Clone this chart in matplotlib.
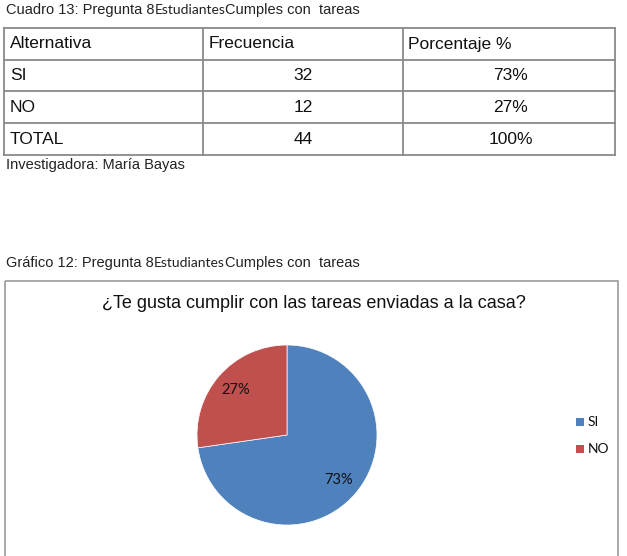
import matplotlib
matplotlib.use('Agg')
import matplotlib.pyplot as plt
from matplotlib.patches import Rectangle

DPI = 100

# table data
header = ['Alternativa', 'Frecuencia', 'Porcentaje %']
alternativas = ['SI', 'NO', 'TOTAL']
frecuencia = [32, 12, 44]
porcentaje = ['73%', '27%', '100%']

# pie data
labels = ['SI', 'NO']
values = [32, 12]
colors = ['#4F81BD', '#C0504D']

titulo = u'\u00bfTe gusta cumplir con las tareas enviadas a la casa?'

ARIAL = ['Liberation Sans', 'DejaVu Sans']
CALIBRI = ['Lato', 'DejaVu Sans']

fig = plt.figure(figsize=(6.27, 5.56), dpi=DPI)
ax = fig.add_axes([0, 0, 1, 1])
ax.set_xlim(0, 627)
ax.set_ylim(556, 0)
ax.axis('off')
renderer = fig.canvas.get_renderer()

def caption(y, first):
    # pieces in different fonts, laid out one after another
    parts = [(first, ARIAL, 10.5), ('Estudiantes', CALIBRI, 10), ('Cumples con  tareas', ARIAL, 10.5)]
    x = 6
    for s, fam, fs in parts:
        t = ax.text(x, y, s, family=fam, fontsize=fs, va='center', ha='left', color='#222222')
        bb = t.get_window_extent(renderer)
        x += bb.width * 627.0 / fig.bbox.width

caption(10, 'Cuadro 13: Pregunta 8')

# table grid
lc = '#8a8a8a'
row_lines = [28, 60, 91, 123, 155]
col_lines = [4, 203, 403, 615]
for y in row_lines:
    ax.plot([col_lines[0], col_lines[-1]], [y, y], color=lc, lw=1.3)
for x in col_lines:
    ax.plot([x, x], [row_lines[0], row_lines[-1]], color=lc, lw=1.3)

row_y = [(a + b) / 2.0 for a, b in zip(row_lines[:-1], row_lines[1:])]
for x, h in zip([10, 209, 408], header):
    ax.text(x, row_y[0], h, family=ARIAL, fontsize=12.5, va='center', ha='left', color='#111111')
for i in range(len(alternativas)):
    y = row_y[i + 1]
    ax.text(10, y, alternativas[i], family=ARIAL, fontsize=12.5, va='center', ha='left', color='#111111')
    ax.text(303, y, str(frecuencia[i]), family=ARIAL, fontsize=12.5, va='center', ha='center', color='#111111')
    ax.text(511, y, porcentaje[i], family=ARIAL, fontsize=12.5, va='center', ha='center', color='#111111')

ax.text(6, 165, u'Investigadora: Mar\u00eda Bayas', family=ARIAL, fontsize=10.5, va='center', ha='left', color='#222222')

caption(263, u'Gr\u00e1fico 12: Pregunta 8')

# chart frame
ax.add_patch(Rectangle((5, 281), 613, 290, fill=False, edgecolor='#9a9a9a', lw=1.2))
ax.text(314, 303, titulo, family=ARIAL, fontsize=13, va='center', ha='center', color='#111111')

# pie
cx, cy, r = 287, 435, 90
pax = fig.add_axes([(cx - r) / 627.0, (556 - cy - r) / 556.0, 2 * r / 627.0, 2 * r / 556.0])
wedges, texts, autotexts = pax.pie(values, colors=colors, startangle=90, counterclock=False,
                                   autopct='%1.0f%%', pctdistance=0.76,
                                   wedgeprops=dict(edgecolor='white', linewidth=0.5),
                                   textprops=dict(family=CALIBRI, fontsize=10.5, color='#111111'))
pax.set_xlim(-1, 1)
pax.set_ylim(-1, 1)
pax.set_aspect('equal')
pax.axis('off')

# legend
for i, lab in enumerate(labels):
    y = 422 + 27 * i
    ax.add_patch(Rectangle((576, y - 4), 8, 8, facecolor=colors[i], edgecolor='none'))
    ax.text(588, y, lab, family=CALIBRI, fontsize=10, va='center', ha='left', color='#111111')

fig.savefig('out.png', dpi=DPI)
